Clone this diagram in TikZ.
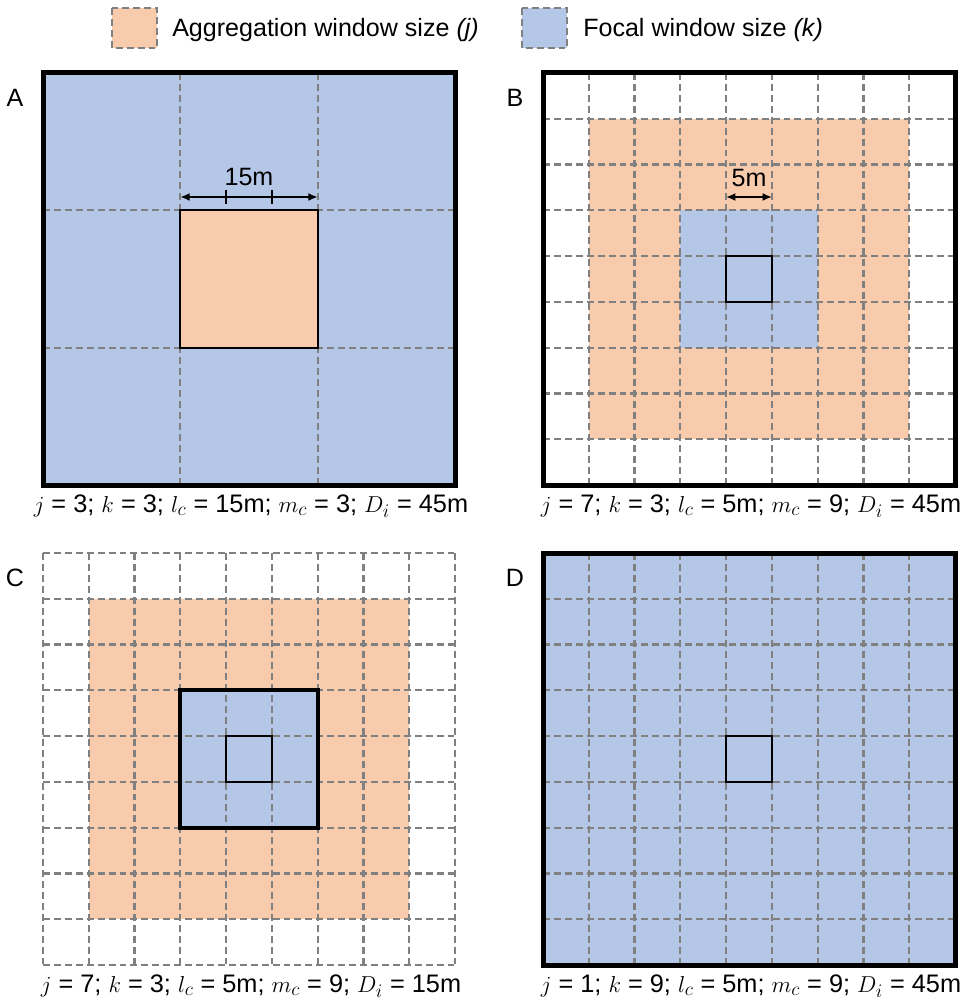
\documentclass[tikz,border=0pt]{standalone}
\usepackage{fontspec}
\setmainfont{Liberation Sans}
\usetikzlibrary{arrows.meta}
\definecolor{aggc}{HTML}{F8CBAD}
\definecolor{focc}{HTML}{B4C7E7}
\definecolor{gridc}{HTML}{808080}
\tikzset{
  gridline/.style={draw=gridc, line width=1.7pt, dash pattern=on 5.2pt off 3pt},
  outerbox/.style={draw=black, line width=3.75pt},
  thinbox/.style={draw=black, line width=1.5pt},
  midbox/.style={draw=black, line width=3.2pt},
  txt/.style={font=\fontsize{18.8}{22}\selectfont, inner sep=0pt},
  captxt/.style={font=\fontsize{19}{22}\selectfont, inner sep=0pt},
  dimarrow/.style={draw=black, line width=1.2pt, {Latex[length=7pt,width=6pt]}-{Latex[length=7pt,width=6pt]}},
}
\begin{document}
\begin{tikzpicture}[x=0.75pt,y=-0.75pt]
\useasboundingbox (0,0) rectangle (973,1002);
% legend
\fill[aggc] (112,8) rectangle (157,48);
\draw[gridline] (112,8) rectangle (157,48);
\node[txt, anchor=west] (legA) at (172,30) {Aggregation window size \textit{(j)}};
\fill[focc] (522,8) rectangle (567,48);
\draw[gridline] (522,8) rectangle (567,48);
\node[txt, anchor=west] (legB) at (583,30) {Focal window size \textit{(k)}};

% ---------- Panel A ----------
\begin{scope}[shift={(43,73)}]
  \fill[focc] (0,0) rectangle (412,412);
  \foreach \i in {1,2} {
    \draw[gridline] ({\i*412/3},0) -- ({\i*412/3},412);
    \draw[gridline] (0,{\i*412/3}) -- (412,{\i*412/3});
  }
  \filldraw[fill=aggc, thinbox] ({412/3},{412/3}) rectangle ({2*412/3},{2*412/3});
  \draw[outerbox] (0,0) rectangle (412,412);
  \coordinate (a1) at ({412/3},124);
  \coordinate (a2) at ({2*412/3},124);
  \draw[dimarrow] (a1) -- (a2);
  \draw[black, line width=1.2pt] ({412/3+412/9},117) -- ({412/3+412/9},131);
  \draw[black, line width=1.2pt] ({412/3+2*412/9},117) -- ({412/3+2*412/9},131);
  \node[txt] (lab15) at (206,104) {15m};
\end{scope}
\node[txt] (letA) at (15,98) {A};
\node[captxt] (capA) at (251,506) {$j$ = 3; $k$ = 3; $l_c$ = 15m; $m_c$ = 3; $D_i$ = 45m};

% ---------- Panel B ----------
\begin{scope}[shift={(543,73)}]
  \fill[white] (0,0) rectangle (412,412);
  \fill[aggc] ({412/9},{412/9}) rectangle ({8*412/9},{8*412/9});
  \fill[focc] ({3*412/9},{3*412/9}) rectangle ({6*412/9},{6*412/9});
  \foreach \i in {1,...,8} {
    \draw[gridline] ({\i*412/9},0) -- ({\i*412/9},412);
    \draw[gridline] (0,{\i*412/9}) -- (412,{\i*412/9});
  }
  \draw[thinbox] ({4*412/9},{4*412/9}) rectangle ({5*412/9},{5*412/9});
  \draw[outerbox] (0,0) rectangle (412,412);
  \coordinate (b1) at ({4*412/9},124);
  \coordinate (b2) at ({5*412/9},124);
  \draw[dimarrow] (b1) -- (b2);
  \node[txt] (lab5) at (206,105) {5m};
\end{scope}
\node[txt] (letB) at (515,98) {B};
\node[captxt] (capB) at (751,506) {$j$ = 7; $k$ = 3; $l_c$ = 5m; $m_c$ = 9; $D_i$ = 45m};

% ---------- Panel C ----------
\begin{scope}[shift={(43,553)}]
  \fill[aggc] ({412/9},{412/9}) rectangle ({8*412/9},{8*412/9});
  \fill[focc] ({3*412/9},{3*412/9}) rectangle ({6*412/9},{6*412/9});
  \foreach \i in {0,...,9} {
    \draw[gridline] ({\i*412/9},0) -- ({\i*412/9},412);
    \draw[gridline] (0,{\i*412/9}) -- (412,{\i*412/9});
  }
  \draw[midbox] ({3*412/9},{3*412/9}) rectangle ({6*412/9},{6*412/9});
  \draw[thinbox] ({4*412/9},{4*412/9}) rectangle ({5*412/9},{5*412/9});
\end{scope}
\node[txt] (letC) at (15,578) {C};
\node[captxt] (capC) at (251,986) {$j$ = 7; $k$ = 3; $l_c$ = 5m; $m_c$ = 9; $D_i$ = 15m};

% ---------- Panel D ----------
\begin{scope}[shift={(543,553)}]
  \fill[focc] (0,0) rectangle (412,412);
  \foreach \i in {1,...,8} {
    \draw[gridline] ({\i*412/9},0) -- ({\i*412/9},412);
    \draw[gridline] (0,{\i*412/9}) -- (412,{\i*412/9});
  }
  \draw[thinbox] ({4*412/9},{4*412/9}) rectangle ({5*412/9},{5*412/9});
  \draw[outerbox] (0,0) rectangle (412,412);
\end{scope}
\node[txt] (letD) at (515,578) {D};
\node[captxt] (capD) at (751,986) {$j$ = 1; $k$ = 9; $l_c$ = 5m; $m_c$ = 9; $D_i$ = 45m};
\end{tikzpicture}
\end{document}
